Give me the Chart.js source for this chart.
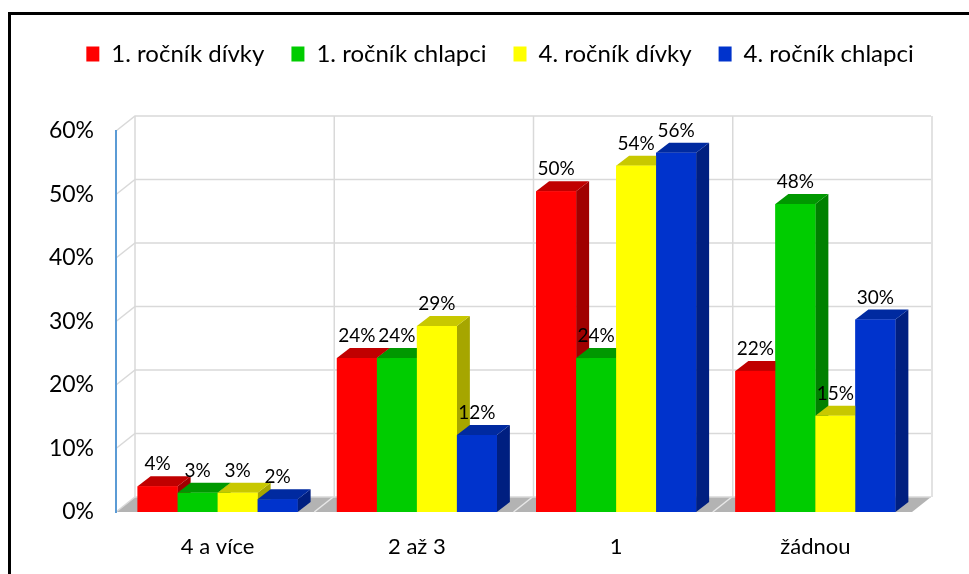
<!DOCTYPE html>
<html>
<head>
<meta charset="utf-8">
<script src="https://cdn.jsdelivr.net/npm/chart.js@4"></script>
<style>
  html, body { margin: 0; padding: 0; background: #fff; }
</style>
</head>
<body>
<canvas id="chart1" width="969" height="574"></canvas>
<script>
const categories = ["4 a více", "2 až 3", "1", "žádnou"];
const seriesNames = ["1. ročník dívky", "1. ročník chlapci", "4. ročník dívky", "4. ročník chlapci"];
const divky1 = [4, 24, 50, 22];
const chlapci1 = [3, 24, 24, 48];
const divky4 = [3, 29, 54, 15];
const chlapci4 = [2, 12, 56, 30];
const yTicks = [0, 10, 20, 30, 40, 50, 60];

// front / top / side colours of the 3d bars
const FRONT = ["#FF0000", "#00CC00", "#FFFF00", "#0033CC"];
const TOP = ["#C00000", "#009800", "#C8C800", "#002AA0"];
const SIDE = ["#A00000", "#008000", "#A6A600", "#001F80"];
const WALL_DX = 19, WALL_DY = -15;
const BAR_DX = 13, BAR_DY = -10;
const FONT = "Lato";

const canvas = document.getElementById("chart1");

function poly(ctx, pts, color) {
  ctx.fillStyle = color;
  ctx.beginPath();
  ctx.moveTo(pts[0][0], pts[0][1]);
  for (let i = 1; i < pts.length; i++) ctx.lineTo(pts[i][0], pts[i][1]);
  ctx.closePath();
  ctx.fill();
}

const frame = {
  id: "frame",
  beforeDraw(c) {
    const ctx = c.ctx;
    ctx.save();
    ctx.fillStyle = "#fff";
    ctx.fillRect(0, 0, c.width, c.height);
    ctx.strokeStyle = "#000";
    ctx.lineWidth = 3;
    ctx.strokeRect(9.5, 13.5, 1200, 1200);
    ctx.restore();
  }
};

const legendSpace = {
  id: "legendSpace",
  beforeInit(c) {
    const fit = c.legend.fit;
    c.legend.fit = function () {
      fit.call(this);
      this.height += 55;
    };
  }
};

const walls = {
  id: "walls",
  beforeDatasetsDraw(c) {
    const ctx = c.ctx, a = c.chartArea, y = c.scales.y;
    const left = a.left - 2;
    const right = a.right - 3;
    const catW = (a.right - a.left) / categories.length;
    const y0 = y.getPixelForValue(0);
    const yTop = y.getPixelForValue(yTicks[yTicks.length - 1]);
    ctx.save();
    // floor
    poly(ctx, [[left, y0], [right, y0], [right + WALL_DX, y0 + WALL_DY], [left + WALL_DX, y0 + WALL_DY]], "#B3B3B3");
    ctx.strokeStyle = "#E8E8E8";
    ctx.lineWidth = 1.5;
    for (let i = 1; i < categories.length; i++) {
      const fx = left + i * catW - 1;
      ctx.beginPath();
      ctx.moveTo(fx, y0);
      ctx.lineTo(fx + WALL_DX, y0 + WALL_DY);
      ctx.stroke();
    }
    // back wall grid
    ctx.strokeStyle = "#D9D9D9";
    yTicks.forEach((v) => {
      const py = y.getPixelForValue(v);
      ctx.beginPath();
      ctx.moveTo(left, py);
      ctx.lineTo(left + WALL_DX, py + WALL_DY);
      ctx.lineTo(right + WALL_DX, py + WALL_DY);
      ctx.stroke();
    });
    for (let i = 0; i <= categories.length; i++) {
      const bx = left + i * catW + WALL_DX;
      ctx.beginPath();
      ctx.moveTo(bx, yTop + WALL_DY);
      ctx.lineTo(bx, y0 + WALL_DY);
      ctx.stroke();
    }
    // value axis line
    ctx.strokeStyle = "#5B9BD5";
    ctx.lineWidth = 2;
    ctx.beginPath();
    ctx.moveTo(left, yTop - 1);
    ctx.lineTo(left, y0 + 1);
    ctx.stroke();
    ctx.restore();
  }
};

const bars3d = {
  id: "bars3d",
  afterDatasetsDraw(c) {
    const ctx = c.ctx;
    ctx.save();
    for (let i = 0; i < categories.length; i++) {
      c.data.datasets.forEach((ds, d) => {
        const el = c.getDatasetMeta(d).data[i];
        const l = el.x - el.width / 2, r = el.x + el.width / 2, t = el.y, b = el.base;
        poly(ctx, [[r, b], [r + BAR_DX, b + BAR_DY], [r + BAR_DX, t + BAR_DY], [r, t]], SIDE[d]);
        poly(ctx, [[l, t], [r, t], [r + BAR_DX, t + BAR_DY], [l + BAR_DX, t + BAR_DY]], TOP[d]);
        ctx.fillStyle = FRONT[d];
        ctx.fillRect(l, t, r - l, b - t);
      });
    }
    // value labels
    ctx.fillStyle = "#000";
    ctx.font = "19px " + FONT;
    ctx.textAlign = "center";
    ctx.textBaseline = "middle";
    c.data.datasets.forEach((ds, d) => {
      c.getDatasetMeta(d).data.forEach((el, i) => {
        ctx.fillText(Math.round(ds.data[i]) + "%", el.x, el.y - 22);
      });
    });
    ctx.restore();
  }
};

const myChart = new Chart(canvas, {
  type: "bar",
  data: {
    labels: categories,
    datasets: [divky1, chlapci1, divky4, chlapci4].map((values, d) => ({
      label: seriesNames[d],
      data: values,
      backgroundColor: FRONT[d],
      borderWidth: 0,
      yAxisID: "yb",
      categoryPercentage: 0.803,
      barPercentage: 1,
    })),
  },
  options: {
    responsive: false,
    animation: false,
    devicePixelRatio: 1,
    layout: { padding: { left: 36, right: 5, top: 15, bottom: 0 } },
    plugins: {
      tooltip: { enabled: false },
      legend: {
        position: "top",
        labels: {
          boxWidth: 13,
          boxHeight: 15,
          padding: 27,
          color: "#000",
          font: { family: FONT, size: 24 },
        },
      },
    },
    scales: {
      x: {
        grid: { display: false, drawTicks: false },
        border: { display: false },
        ticks: { color: "#000", font: { family: FONT, size: 22 }, padding: 22 },
        afterFit: (s) => { s.height = 62; },
      },
      y: {
        position: "left",
        min: 0,
        max: 60,
        grid: { display: false, drawTicks: false },
        border: { display: false },
        ticks: {
          stepSize: 10,
          padding: 24,
          color: "#000",
          font: { family: FONT, size: 23 },
          callback: (v) => v + "%",
        },
        afterFit: (s) => { s.width = 82; },
      },
      yb: {
        display: false,
        min: 0,
        max: 59.4,
      },
      yr: {
        position: "right",
        grid: { display: false, drawTicks: false },
        border: { display: false },
        ticks: { display: false },
        afterFit: (s) => { s.width = 49; },
      },
    },
  },
  plugins: [frame, legendSpace, walls, bars3d],
});
</script>
</body>
</html>
